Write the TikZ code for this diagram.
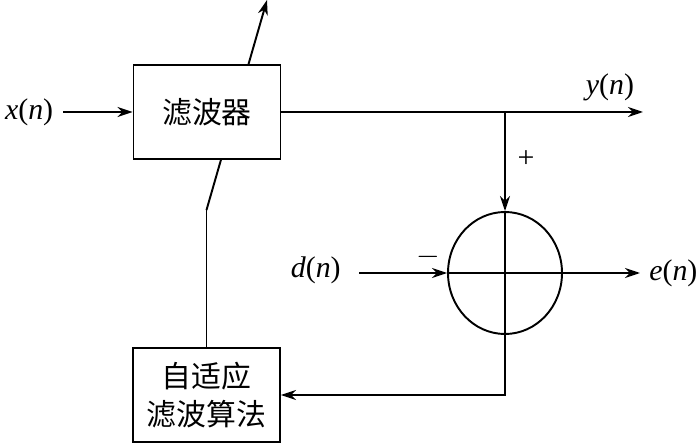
\documentclass[tikz,border=0pt]{standalone}
\usepackage{fontspec}
\setmainfont{Liberation Serif}
\newfontfamily\cjk{Noto Sans CJK SC}
\usepackage{tikz}
\usetikzlibrary{calc,arrows.meta,shapes.geometric}

\tikzset{
  blockbox/.style={draw, line width=1.1pt, fill=white, minimum width=2.94cm, minimum height=1.87cm, align=center, font=\cjk\fontsize{17}{22}\selectfont},
  sig/.style={font=\fontsize{17}{20}\selectfont},
  arr/.style={-{Stealth[length=3mm,width=2mm]}},
}

\begin{document}
\begin{tikzpicture}[line width=1.1pt]
\useasboundingbox (0,0) rectangle (14,8.86);
\node[blockbox] (adapt) at (4.13,0.96) {自适应\\滤波算法};
\coordinate (kink) at ($(adapt.north |- 0,4.66)$);
\coordinate (tip) at (5.34,8.86);
\draw (adapt.north) -- (kink);
\draw [arr] (kink) -- (tip);
\node[blockbox] (filter) at (4.14,6.62) {滤波器};
\node[draw, ellipse, line width=1.1pt, minimum width=2.28cm, minimum height=2.44cm, inner sep=0pt] (sum) at (10.1,3.4) {};

\node[sig, anchor=east] (xin) at (1.2,6.62) {\textit{x}(\textit{n})};
\coordinate (xstart) at (1.26,6.62);
\draw [arr] (xstart) -- (filter.west);

\coordinate (junc) at (10.1,6.62);
\coordinate (yend) at (12.86,6.62);
\draw [arr] (filter.east) -- (yend);
\node[sig] (yout) at (12.2,7.12) {\textit{y}(\textit{n})};
\draw [arr] (junc) -- (sum.north);
\node[font=\fontsize{17}{20}\selectfont] (plus) at (10.52,5.68) {+};

\coordinate (dstart) at (7.18,3.4);
\node[sig, anchor=east] (din) at (6.95,3.46) {\textit{d}(\textit{n})};
\draw [arr] (dstart) -- (sum.west);
\node[font=\fontsize{17}{20}\selectfont] (minus) at (8.56,3.72) {$-$};

\coordinate (eend) at (12.8,3.4);
\draw (sum.west) -- (sum.east);
\draw [arr] (sum.east) -- (eend);
\node[sig, anchor=west] (eout) at (12.85,3.4) {\textit{e}(\textit{n})};

\draw (sum.north) -- (sum.south);
\draw [arr] (sum.south) |- (adapt.east);
\end{tikzpicture}
\end{document}
